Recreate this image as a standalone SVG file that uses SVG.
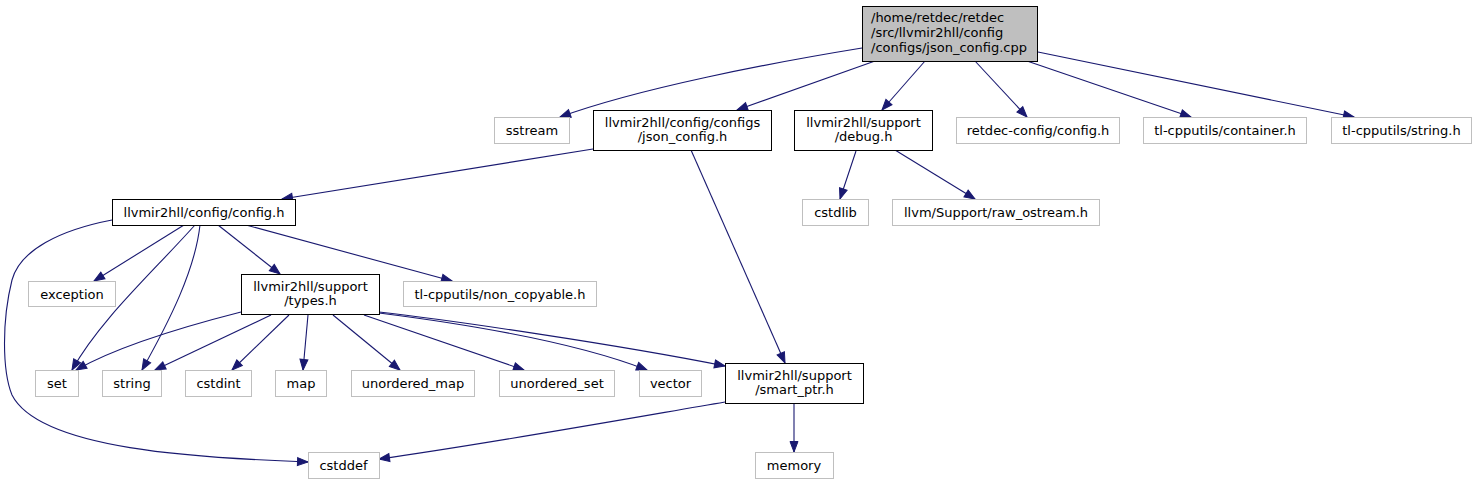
<svg xmlns="http://www.w3.org/2000/svg" width="1476" height="484" viewBox="0 0 1476 484">
<style>
text{font-family:"DejaVu Sans","Liberation Sans",sans-serif;font-size:13px;fill:#000;text-anchor:middle}
.root rect{fill:#bfbfbf;stroke:#000;stroke-width:1}
.doc rect{fill:#fff;stroke:#000;stroke-width:1}
.ext rect{fill:#fff;stroke:#bfbfbf;stroke-width:1}
#edges path{fill:none;stroke:#191970;stroke-width:1.1;marker-end:url(#ah)}
</style>
<defs>
<marker id="ah" markerWidth="12" markerHeight="10" refX="10.5" refY="4.5" orient="auto" markerUnits="userSpaceOnUse" overflow="visible">
<path d="M0,0.5 L10.5,4.5 L0,8.5 z" fill="#191970" stroke="#191970" stroke-width="1"/>
</marker>
</defs>
<rect width="1476" height="484" fill="#fff"/>
<g id="edges">
<path d="M862,48 C770,63 640,88 560,117"/>
<path d="M875,61 L737,110"/>
<path d="M925,61 L882,110"/>
<path d="M975,61 L1027,117"/>
<path d="M1027,61 L1191,117"/>
<path d="M1038,52 L1354,117"/>
<path d="M593,149 L282,199"/>
<path d="M691,150 L785,363"/>
<path d="M856,151 L840,199"/>
<path d="M895,150 L975,199"/>
<path d="M112,220 C60,230 20,250 12,280 C2,320 2,370 12,395 C40,450 200,458 308,462"/>
<path d="M184,225 L94,281"/>
<path d="M195,225 C150,275 100,320 72,370"/>
<path d="M200,225 C195,270 170,320 142,370"/>
<path d="M218,225 L280,274"/>
<path d="M246,225 L452,281"/>
<path d="M241,312 C190,325 120,345 76,370"/>
<path d="M271,315 L155,370"/>
<path d="M289,315 L232,370"/>
<path d="M308,315 L303,370"/>
<path d="M333,315 L400,370"/>
<path d="M364,315 L524,370"/>
<path d="M379,313 C450,322 570,340 647,370"/>
<path d="M379,312 C450,320 620,345 725,366"/>
<path d="M725,402 C620,420 480,445 379,459"/>
<path d="M794,403 L794,452"/>
</g>
<g id="node_root" class="root"><rect x="862.5" y="6.5" width="175" height="55"/>
<text x="871" y="21.5" style="text-anchor:start">/home/retdec/retdec</text>
<text x="871" y="36.5" style="text-anchor:start">/src/llvmir2hll/config</text>
<text x="871" y="51.5" style="text-anchor:start">/configs/json_config.cpp</text></g>
<g id="node_sstream" class="ext"><rect x="494.5" y="117.5" width="75" height="26"/><text x="532" y="135">sstream</text></g>
<g id="node_json_config_h" class="doc"><rect x="593.5" y="110.5" width="178" height="40"/><text x="682.5" y="126.5">llvmir2hll/config/configs</text><text x="682.5" y="140.5">/json_config.h</text></g>
<g id="node_debug_h" class="doc"><rect x="794.5" y="110.5" width="138" height="40"/><text x="863.5" y="126.5">llvmir2hll/support</text><text x="863.5" y="140.5">/debug.h</text></g>
<g id="node_retdec_config" class="ext"><rect x="956.5" y="117.5" width="163" height="26"/><text x="1038" y="135">retdec-config/config.h</text></g>
<g id="node_container" class="ext"><rect x="1143.5" y="117.5" width="163" height="26"/><text x="1225" y="135">tl-cpputils/container.h</text></g>
<g id="node_tl_string" class="ext"><rect x="1331.5" y="117.5" width="140" height="26"/><text x="1401.5" y="135">tl-cpputils/string.h</text></g>
<g id="node_config_h" class="doc"><rect x="112.5" y="199.5" width="183" height="26"/><text x="204" y="217">llvmir2hll/config/config.h</text></g>
<g id="node_cstdlib" class="ext"><rect x="802.5" y="199.5" width="66" height="26"/><text x="835.5" y="217">cstdlib</text></g>
<g id="node_raw_ostream" class="ext"><rect x="892.5" y="199.5" width="207" height="26"/><text x="996" y="217">llvm/Support/raw_ostream.h</text></g>
<g id="node_exception" class="ext"><rect x="28.5" y="281.5" width="87" height="25"/><text x="72" y="298.5">exception</text></g>
<g id="node_types_h" class="doc"><rect x="241.5" y="274.5" width="138" height="40"/><text x="310.5" y="290.5">llvmir2hll/support</text><text x="310.5" y="304.5">/types.h</text></g>
<g id="node_non_copyable" class="ext"><rect x="403.5" y="281.5" width="193" height="25"/><text x="500" y="298.5">tl-cpputils/non_copyable.h</text></g>
<g id="node_set" class="ext"><rect x="35.5" y="370.5" width="43" height="26"/><text x="57" y="388">set</text></g>
<g id="node_string" class="ext"><rect x="102.5" y="370.5" width="59" height="26"/><text x="132" y="388">string</text></g>
<g id="node_cstdint" class="ext"><rect x="185.5" y="370.5" width="66" height="26"/><text x="218.5" y="388">cstdint</text></g>
<g id="node_map" class="ext"><rect x="275.5" y="370.5" width="51" height="26"/><text x="301" y="388">map</text></g>
<g id="node_unordered_map" class="ext"><rect x="351.5" y="370.5" width="123" height="26"/><text x="413" y="388">unordered_map</text></g>
<g id="node_unordered_set" class="ext"><rect x="499.5" y="370.5" width="115" height="26"/><text x="557" y="388">unordered_set</text></g>
<g id="node_vector" class="ext"><rect x="639.5" y="370.5" width="62" height="26"/><text x="670.5" y="388">vector</text></g>
<g id="node_smart_ptr_h" class="doc"><rect x="725.5" y="363.5" width="138" height="40"/><text x="794.5" y="379.5">llvmir2hll/support</text><text x="794.5" y="393.5">/smart_ptr.h</text></g>
<g id="node_memory" class="ext"><rect x="755.5" y="452.5" width="78" height="26"/><text x="794" y="470">memory</text></g>
<g id="node_cstddef" class="ext"><rect x="308.5" y="452.5" width="71" height="26"/><text x="343.5" y="470">cstddef</text></g>
</svg>
